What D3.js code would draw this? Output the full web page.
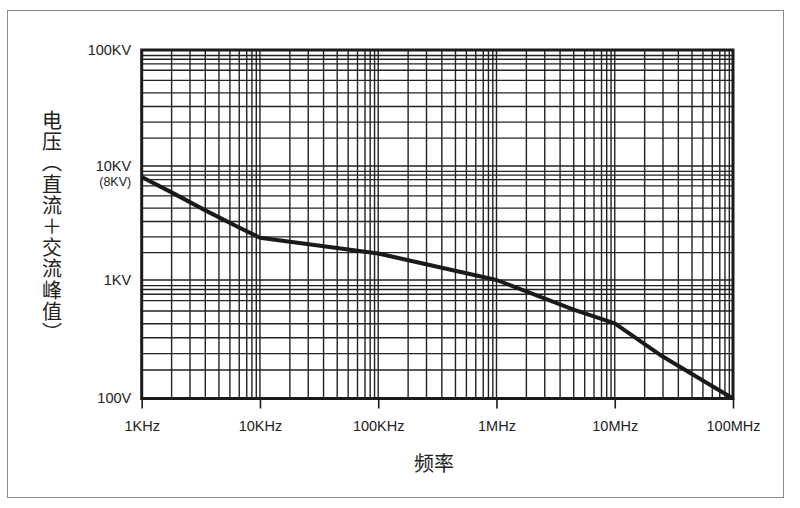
<!DOCTYPE html>
<html>
<head>
<meta charset="utf-8">
<script src="https://cdn.jsdelivr.net/npm/d3@7"></script>
<style>
  body { margin: 0; background: #fff; }
  text { fill: #222; }
</style>
</head>
<body>
<div id="chart"></div>
<script>
// Chart data
const freqTicks = [1e3, 1e4, 1e5, 1e6, 1e7, 1e8];
const freqLabels = ["1KHz", "10KHz", "100KHz", "1MHz", "10MHz", "100MHz"];
const voltTicks = [100, 1000, 10000, 100000];
const voltLabels = ["100V", "1KV", "10KV", "100KV"];

// the printed grid is not an exact log grid, so the minor lines are read too
const xMinorSteps = [1.79, 2.56, 3.45, 4.50, 5.57, 6.68, 7.73, 8.55, 9.31];
const yMinorSteps = [1.74, 2.39, 3.26, 4.27, 5.47, 6.70, 7.59, 8.32, 8.97];

// voltage limit curve
const curveFreq = [1e3, 1.79e3, 3.55e3, 6.78e3, 1e4, 1e5, 1e6, 4.43e6, 1e7, 2.42e7, 1e8];
const curveVolt = [8000, 5870, 4020, 2860, 2350, 1710, 1000, 566, 431, 233, 100];

const width = 800;
const height = 508;
const margin = {left: 141.7, right: 67, top: 50, bottom: 109.5};

const fontLatin = "'Liberation Sans', Arial, sans-serif";
const fontCJK = "'Noto Sans CJK SC', 'Noto Sans', sans-serif";

const svg = d3.select("#chart")
  .append("svg")
  .attr("width", width)
  .attr("height", height);

// outer frame
svg.append("rect")
  .attr("x", 7.5).attr("y", 10.5)
  .attr("width", 776).attr("height", 487)
  .attr("fill", "none")
  .attr("stroke", "#8c8c8c")
  .attr("stroke-width", 1);

const x = d3.scaleLog()
  .domain([1e3, 1e8])
  .range([margin.left, width - margin.right]);

// decades are not quite even in the print, so one piece per decade
const y = d3.scaleLog()
  .domain(voltTicks)
  .range([398.5, 280, 166, 50]);

// grid values
const xGrid = [];
freqTicks.slice(0, -1).forEach(function(d) {
  xMinorSteps.forEach(m => xGrid.push(d * m));
  if (d > 1e3) xGrid.push(d);
});
const yGrid = [];
voltTicks.slice(0, -1).forEach(function(d) {
  yMinorSteps.forEach(m => yGrid.push(d * m));
  if (d > 100) yGrid.push(d);
});

const grid = svg.append("g")
  .attr("stroke", "#222")
  .attr("stroke-width", 1.4);

grid.selectAll(".vline")
  .data(xGrid)
  .enter()
  .append("line")
    .attr("x1", d => x(d)).attr("x2", d => x(d))
    .attr("y1", y(100000)).attr("y2", y(100));

grid.selectAll(".hline")
  .data(yGrid)
  .enter()
  .append("line")
    .attr("x1", x(1e3)).attr("x2", x(1e8))
    .attr("y1", d => y(d)).attr("y2", d => y(d));

// plot border
svg.append("rect")
  .attr("x", x(1e3)).attr("y", y(100000))
  .attr("width", x(1e8) - x(1e3))
  .attr("height", y(100) - y(100000))
  .attr("fill", "none")
  .attr("stroke", "#1a1a1a")
  .attr("stroke-width", 3);

// x axis
const xAxis = svg.append("g")
  .attr("transform", `translate(0,${y(100)})`)
  .call(d3.axisBottom(x)
    .tickValues(freqTicks)
    .tickFormat((d, i) => freqLabels[i])
    .tickSize(10)
    .tickPadding(12));
xAxis.select(".domain").remove();
xAxis.selectAll("line").attr("stroke", "#1a1a1a").attr("stroke-width", 1.6);
xAxis.selectAll("text")
  .attr("font-family", fontLatin)
  .attr("font-size", "14.5px")
  .attr("fill", "#222");

// y axis
const yAxis = svg.append("g")
  .attr("transform", `translate(${x(1e3)},0)`)
  .call(d3.axisLeft(y)
    .tickValues(voltTicks)
    .tickFormat((d, i) => voltLabels[i])
    .tickSize(0)
    .tickPadding(10.5));
yAxis.select(".domain").remove();
yAxis.selectAll("text")
  .attr("font-family", fontLatin)
  .attr("font-size", "14.5px")
  .attr("fill", "#222")
  .attr("dy", "0.3em");

// note under 10KV
svg.append("text")
  .attr("x", x(1e3) - 10.5)
  .attr("y", y(10000) + 19.5)
  .attr("text-anchor", "end")
  .attr("font-family", fontLatin)
  .attr("font-size", "12.5px")
  .text("(8KV)");

// the curve
const line = d3.line()
  .x((d, i) => x(curveFreq[i]))
  .y(d => y(d));

svg.append("path")
  .datum(curveVolt)
  .attr("d", line)
  .attr("fill", "none")
  .attr("stroke", "#1a1a1a")
  .attr("stroke-width", 4)
  .attr("stroke-linejoin", "round");

// axis titles
svg.append("text")
  .attr("x", 434)
  .attr("y", 471)
  .attr("text-anchor", "middle")
  .attr("font-family", fontCJK)
  .attr("font-size", "20px")
  .text("频率");

svg.append("text")
  .attr("x", 52)
  .attr("y", 227)
  .attr("text-anchor", "middle")
  .attr("writing-mode", "vertical-rl")
  .attr("letter-spacing", "1.2px")
  .attr("font-family", fontCJK)
  .attr("font-size", "20px")
  .text("电压（直流＋交流峰值）");
</script>
</body>
</html>
